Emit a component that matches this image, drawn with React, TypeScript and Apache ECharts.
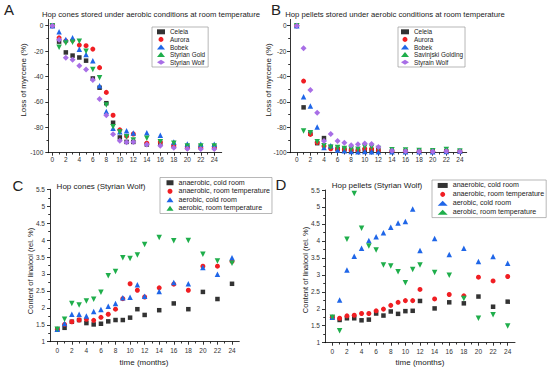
import React, { useEffect, useRef } from "react";
import * as echarts from "echarts";

const FONT = "'Liberation Sans', Arial, sans-serif";

// ---- Data ----
const months = [0, 1, 2, 3, 4, 5, 6, 7, 8, 9, 10, 11, 12, 14, 16, 18, 20, 22, 24];
const majorXTicks = [0, 2, 4, 6, 8, 10, 12, 14, 16, 18, 20, 22, 24];
const minorXTicks = [1, 3, 5, 7, 9, 11, 13, 15, 17, 19, 21, 23];
const myrceneTicks = [-100, -80, -60, -40, -20, 0];
const myrceneMinor = [-90, -70, -50, -30, -10];
const linaloolTicks = [1, 1.5, 2, 2.5, 3, 3.5, 4, 4.5, 5, 5.5];
const linaloolMinor = [1.25, 1.75, 2.25, 2.75, 3.25, 3.75, 4.25, 4.75, 5.25];

// Panel A: hop cones, loss of myrcene (%)
const conesNames = ["Celeia", "Aurora", "Bobek", "Styrian Gold", "Styrian Wolf"];
const conesCeleia = [0, -12.5, -21, -23.5, -25, -27.5, -41.5, -48.8, -61, -76.4, -88, -91.5, -91.5, -93.5, -93, -94.8, -95.2, -95.2, -95.2];
const conesAurora = [0, -9.5, -12, -11.5, -15.2, -15.7, -18.4, -33, -52.5, -70.5, -82, -87, -85.3, -92.5, -91.5, -94.7, -96.3, -96.3, -96.3];
const conesBobek = [0, -4.7, -10.8, -9.4, -18.6, -22.6, -27.6, -47.2, -67.5, -80.8, -83.5, -82.7, -84.5, -84.2, -86.3, -91.6, -93.1, -93.3, -93.3];
const conesGold = [0, -17, -13.5, -13, -12.2, -20, -34.4, -40.9, -62.5, -79.5, -83.7, -87.5, -90, -88.7, -91.3, -92.6, -94.7, -94.7, -94.7];
const conesWolf = [0, -11, -25.2, -26.8, -31.5, -34.4, -42.8, -57.7, -70.5, -85.5, -90.5, -91.8, -91.6, -93.5, -94.5, -96.1, -96.8, -97.1, -97];

// Panel B: hop pellets, loss of myrcene (%)
const pelletsNames = ["Celeia", "Aurora", "Bobek", "Savinjski Golding", "Styrain Wolf"];
const pelletsCeleia = [0, -64.3, -85, -92.5, -88.5, -95.5, -97, -97.5, -98, -98.3, -98, -98, -98, -98.8, -99, -99, -99, -99, -99];
const pelletsAurora = [0, -43.6, -85.6, -92, -94.8, -96.9, -97.2, -97.6, -98, -98.3, -96.9, -97, -98.3, -99, -99, -99, -99, -99, -99];
const pelletsBobek = [0, -55.9, -63.3, -79.8, -96, -94.5, -97.9, -98.4, -99, -99.3, -99, -99.3, -99.3, -99.2, -99.2, -99.2, -99.2, -99, -98.7];
const pelletsGolding = [0, -82.9, -84.3, -91.3, -94.5, -95.8, -96, -96.6, -97, -97.3, -95.5, -95.8, -96.6, -97.6, -97.8, -98.2, -98.4, -97.5, -98.6];
const pelletsWolf = [0, -17.8, -50.7, -68.5, -90.8, -85.3, -90.8, -92.1, -94.2, -93.4, -92.7, -93.2, -95.5, -98.4, -98.8, -99, -99, -98.8, -99];

// Panels C & D: linalool content (rel. %)
const storageNames = ["anaerobic, cold room", "anaerobic, room temperature", "aerobic, cold room", "aerobic, room temperature"];
const conesAnCold = [1.37, 1.41, 1.59, 1.64, 1.55, 1.51, 1.53, 1.6, 1.64, 1.64, 1.71, 1.96, 1.79, 1.93, 2.13, 1.96, 2.47, 2.26, 2.71];
const conesAnRoom = [1.37, 1.51, 1.59, 1.64, 1.66, 1.63, 1.72, 1.81, 1.96, 2.27, 2.71, 2.52, 2.32, 2.59, 2.7, 2.52, 3.23, 3.23, 3.37];
const conesAerCold = [1.37, 1.54, 1.81, 1.81, 1.76, 1.89, 1.95, 2.05, 2.13, 2.3, 2.31, 2.68, 2.34, 2.48, 2.75, 2.71, 3.19, 2.99, 3.48];
const conesAerRoom = [1.37, 1.66, 2.13, 2.08, 2.2, 2.25, 2.46, 2.95, 3.07, 3.48, 3.46, 3.56, 3.87, 4.08, 3.98, 3.99, 3.58, 3.38, 3.32];

const pelletsAnCold = [1.75, 1.67, 1.72, 1.72, 1.66, 1.68, 1.86, 1.8, 1.92, 1.85, 1.93, 1.94, 2.23, 2.01, 2.19, 2.16, 2.36, 2.06, 2.21];
const pelletsAnRoom = [1.75, 1.72, 1.79, 1.81, 1.86, 1.86, 1.94, 1.99, 2.1, 2.19, 2.24, 2.24, 2.57, 2.29, 2.42, 2.38, 2.93, 2.82, 2.95];
const pelletsAerCold = [1.75, 2.26, 3.14, 3.55, 3.78, 4.01, 4.12, 4.24, 4.4, 4.53, 4.57, 4.94, 3.72, 4.07, 3.6, 3.78, 3.39, 3.54, 3.34];
const pelletsAerRoom = [1.75, 1.35, 4.05, 5.4, 4.37, 3.85, 3.73, 3.29, 3.26, 3.09, 2.77, 3.16, 3.29, 3.07, 2.99, 2.3, 1.72, 1.82, 1.49];

// ---- Styles ----
const COLORS = ["#333333", "#f01e23", "#1f66e8", "#1fae4b", "#a86ee6"];
const SYMBOLS = [
  { symbol: "rect", size: 4.5, rotate: 0 },
  { symbol: "circle", size: 5, rotate: 0 },
  { symbol: "triangle", size: 5.5, rotate: 0 },
  { symbol: "triangle", size: 5.5, rotate: 180 },
  { symbol: "diamond", size: 6, rotate: 0 },
];

const LINE = { color: "#000", width: 0.8 };

function mainX(grid: number, min: number, max: number, margin: number) {
  return {
    type: "value", gridIndex: grid, min, max, position: "bottom",
    axisLine: { show: true, onZero: false, lineStyle: LINE },
    axisTick: { show: true, inside: false, length: 3, customValues: majorXTicks, lineStyle: LINE },
    axisLabel: { show: true, customValues: majorXTicks, margin, fontSize: 6.5, color: "#333", fontFamily: FONT },
    splitLine: { show: false },
  };
}
function minorX(grid: number, min: number, max: number) {
  return {
    type: "value", gridIndex: grid, min, max, position: "bottom",
    axisLine: { show: false, onZero: false },
    axisTick: { show: true, inside: false, length: 1.8, customValues: minorXTicks, lineStyle: LINE },
    axisLabel: { show: false },
    splitLine: { show: false },
  };
}
function mainY(grid: number, min: number, max: number, ticks: number[], margin: number) {
  return {
    type: "value", gridIndex: grid, min, max, position: "left",
    axisLine: { show: true, onZero: false, lineStyle: LINE },
    axisTick: { show: true, inside: false, length: 3, customValues: ticks, lineStyle: LINE },
    axisLabel: { show: true, customValues: ticks, margin, fontSize: 6.5, color: "#333", fontFamily: FONT },
    splitLine: { show: false },
  };
}
function minorY(grid: number, min: number, max: number, ticks: number[]) {
  return {
    type: "value", gridIndex: grid, min, max, position: "left",
    axisLine: { show: false, onZero: false },
    axisTick: { show: true, inside: false, length: 1.8, customValues: ticks, lineStyle: LINE },
    axisLabel: { show: false },
    splitLine: { show: false },
  };
}

function scatter(name: string, values: number[], grid: number, idx: number) {
  const s = SYMBOLS[idx];
  return {
    type: "scatter", name, xAxisIndex: grid, yAxisIndex: grid,
    symbol: s.symbol, symbolSize: s.size, symbolRotate: s.rotate,
    itemStyle: { color: COLORS[idx], opacity: 1 },
    data: months.map((m, i) => [m, values[i]]),
    z: 2 + idx,
  };
}

function txt(text: string, x: number, y: number, size: number, rotate = 0, align = "center") {
  return {
    type: "text", x, y, rotation: rotate, z: 10,
    style: {
      text, fill: "#222", fontSize: size, fontFamily: FONT,
      align, verticalAlign: "middle", textAlign: align, textVerticalAlign: "middle",
    },
  };
}

function legend(names: string[], left: number, top: number, iw: number, pad: number[], fs: number, lh: number) {
  return {
    orient: "vertical", left, top, data: names,
    itemWidth: iw, itemHeight: 5, itemGap: 0, padding: pad,
    borderColor: "#9a9a9a", borderWidth: 0.7, backgroundColor: "#fff",
    textStyle: { fontSize: fs, lineHeight: lh, color: "#222", fontFamily: FONT },
    selectedMode: false,
  };
}

export default function App() {
  const ref = useRef<HTMLDivElement>(null);
  useEffect(() => {
    if (!ref.current) return;
    const chart = echarts.init(ref.current, null, { renderer: "svg" });
    const option: any = {
      animation: false,
      backgroundColor: "#fff",
      grid: [
        { left: 48.3, top: 19.4, width: 173.4, height: 133.3 },
        { left: 290, top: 19.4, width: 176.7, height: 133.3 },
        { left: 50, top: 189.3, width: 189.3, height: 152.4 },
        { left: 325, top: 190, width: 190, height: 152.7 },
      ],
      xAxis: [
        mainX(0, -0.6, 25.1, 3),
        mainX(1, -1, 25, 3),
        mainX(2, -1, 25, 5),
        mainX(3, -1, 25, 5),
        minorX(0, -0.6, 25.1),
        minorX(1, -1, 25),
        minorX(2, -1, 25),
        minorX(3, -1, 25),
      ],
      yAxis: [
        mainY(0, -100, 5, myrceneTicks, 5),
        mainY(1, -100, 5, myrceneTicks, 3.5),
        mainY(2, 1, 5.5, linaloolTicks, 5),
        mainY(3, 1, 5.5, linaloolTicks, 5),
        minorY(0, -100, 5, myrceneMinor),
        minorY(1, -100, 5, myrceneMinor),
        minorY(2, 1, 5.5, linaloolMinor),
        minorY(3, 1, 5.5, linaloolMinor),
      ],
      legend: [
        legend(conesNames, 152, 27, 8, [1, 3, 1, 5], 6.4, 7.6),
        legend(pelletsNames, 398, 27, 8, [1, 2, 1, 3], 6.4, 7.6),
        legend(storageNames, 160, 177.5, 7, [1, 2, 1, 6.5], 7.1, 8.5),
        legend(storageNames, 432, 180, 10, [1, 2, 1, 5.7], 7.1, 8.9),
      ],
      series: [
        scatter(conesNames[0], conesCeleia, 0, 0),
        scatter(conesNames[1], conesAurora, 0, 1),
        scatter(conesNames[2], conesBobek, 0, 2),
        scatter(conesNames[3], conesGold, 0, 3),
        scatter(conesNames[4], conesWolf, 0, 4),
        scatter(pelletsNames[0], pelletsCeleia, 1, 0),
        scatter(pelletsNames[1], pelletsAurora, 1, 1),
        scatter(pelletsNames[2], pelletsBobek, 1, 2),
        scatter(pelletsNames[3], pelletsGolding, 1, 3),
        scatter(pelletsNames[4], pelletsWolf, 1, 4),
        scatter(storageNames[0], conesAnCold, 2, 0),
        scatter(storageNames[1], conesAnRoom, 2, 1),
        scatter(storageNames[2], conesAerCold, 2, 2),
        scatter(storageNames[3], conesAerRoom, 2, 3),
        scatter(storageNames[0], pelletsAnCold, 3, 0),
        scatter(storageNames[1], pelletsAnRoom, 3, 1),
        scatter(storageNames[2], pelletsAerCold, 3, 2),
        scatter(storageNames[3], pelletsAerRoom, 3, 3),
      ],
      graphic: [
        txt("A", 9, 9, 15),
        txt("B", 276, 9, 15),
        txt("C", 18, 185, 15),
        txt("D", 281, 184, 15),
        txt("Hop cones stored under aerobic conditions at room temperature", 151, 14, 7.7),
        txt("Hop pellets stored under aerobic conditions at room temperature", 395, 14, 7.7),
        txt("Hop cones (Styrian Wolf)", 101, 186, 8),
        txt("Hop pellets (Styrian Wolf)", 377, 185, 8),
        txt("Loss of myrcene (%)", 23, 80, 8, Math.PI / 2),
        txt("Loss of myrcene (%)", 268, 80, 8, Math.PI / 2),
        txt("Content of linalool (rel. %)", 30, 271, 7.5, Math.PI / 2),
        txt("Content of linalool (rel. %)", 305.7, 270, 7.5, Math.PI / 2),
        txt("time (months)", 144, 362.7, 8),
        txt("time (months)", 420, 362.7, 8),
      ],
    };
    chart.setOption(option);
    return () => chart.dispose();
  }, []);
  return <div ref={ref} style={{ position: "fixed", left: 0, top: 0, width: 550, height: 371 }} />;
}
